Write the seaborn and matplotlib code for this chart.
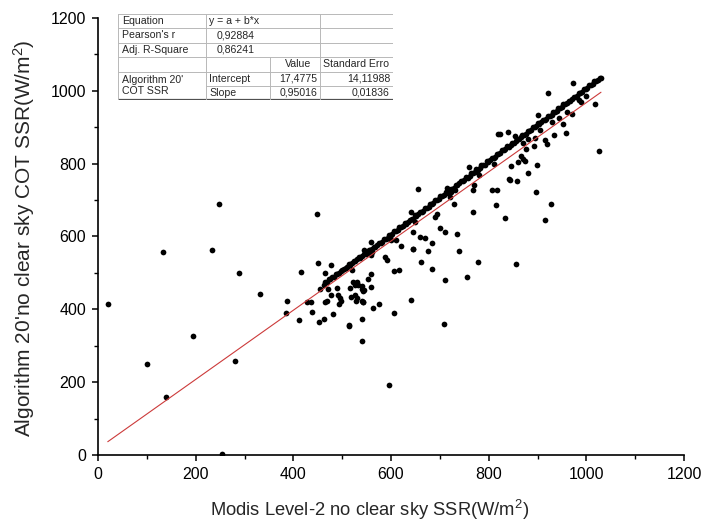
import numpy as np
import pandas as pd
import matplotlib
matplotlib.use('Agg')
import matplotlib.pyplot as plt
import seaborn as sns
from matplotlib.ticker import MultipleLocator
from matplotlib.patches import Rectangle

# ---- data ----
# dense band of points close to y = x
band_x = [462, 465, 469, 473, 476, 480, 483, 487, 490, 494, 497, 500, 504, 507, 510, 514, 517, 521, 524,
          527, 531, 534, 537, 541, 544, 548, 551, 555, 558, 561, 565, 568, 572, 575, 579, 582, 586, 589,
          593, 596, 600, 603, 607, 610, 614, 617, 621, 624, 628, 631, 635, 638, 642, 645, 649, 652, 656,
          659, 663, 666, 670, 673, 677, 680, 684, 687, 691, 694, 698, 701, 705, 708, 712, 715, 719, 722,
          726, 729, 733, 736, 740, 743, 747, 750, 754, 757, 761, 764, 768, 771, 775, 778, 782, 785, 789,
          792, 796, 799, 803, 806, 810, 813, 817, 820, 824, 827, 831, 834, 838, 841, 845, 848, 852, 855,
          859, 862, 866, 869, 873, 876, 880, 883, 887, 890, 894, 897, 901, 904, 908, 911, 915, 918, 922,
          925, 929, 932, 936, 939, 943, 946, 950, 953, 957, 960, 964, 967, 971, 974, 978, 981, 985, 988,
          992, 995, 999, 1002, 1006, 1009, 1013, 1016, 1020, 1023, 1027]
band_y = [467, 474, 476, 483, 484, 489, 490, 497, 496, 501, 506, 507, 512, 514, 516, 524, 523, 526, 534,
          532, 537, 543, 542, 547, 553, 553, 556, 563, 562, 566, 572, 572, 577, 583, 583, 586, 594, 593,
          597, 604, 604, 607, 615, 615, 618, 625, 626, 628, 636, 635, 640, 646, 647, 649, 658, 657, 661,
          667, 668, 671, 679, 678, 682, 689, 689, 692, 700, 699, 703, 710, 710, 713, 721, 720, 724, 731,
          731, 734, 742, 741, 746, 752, 753, 755, 764, 762, 767, 773, 774, 777, 785, 783, 788, 795, 795,
          797, 806, 805, 809, 816, 816, 819, 827, 826, 830, 837, 837, 840, 848, 847, 851, 858, 858, 861,
          869, 868, 872, 879, 879, 882, 890, 889, 893, 900, 900, 903, 911, 910, 914, 921, 921, 924, 931,
          931, 935, 942, 942, 945, 952, 952, 956, 963, 963, 966, 973, 973, 977, 984, 984, 987, 995, 994,
          998, 1005, 1005, 1008, 1016, 1015, 1019, 1026, 1026, 1029, 1036]

# scattered points away from the band
scatter_x = [21, 100, 139, 194, 134, 234, 248, 254, 281, 289, 331, 384, 388, 412, 415, 427, 437, 439,
             449, 450, 452, 454, 463, 464, 465, 468, 472, 477, 477, 482, 490, 491, 494, 496, 497, 513,
             514, 517, 519, 523, 526, 527, 528, 530, 531, 533, 540, 540, 540, 540, 540, 542, 542, 543,
             545, 553, 559, 560, 560, 562, 545, 563, 576, 588, 591, 595, 606, 606, 611, 616, 621, 640,
             641, 645, 646, 646, 655, 659, 662, 669, 676, 683, 683, 690, 694, 700, 708, 710, 711, 714,
             722, 729, 731, 736, 740, 756, 760, 767, 767, 770, 779, 806, 814, 817, 820, 823, 833, 840,
             841, 843, 846, 854, 856, 858, 860, 866, 870, 874, 876, 881, 892, 895, 896, 899, 902, 915,
             915, 920, 922, 927, 933, 952, 958, 960, 970, 973, 989, 1018, 1026, 1031,
             520, 560, 600, 650, 720, 780, 810, 870, 880, 905, 930, 945, 985, 1000]
scatter_y = [416, 249, 158, 327, 557, 564, 689, 3, 257, 500, 441, 389, 423, 372, 503, 421, 420, 392,
             661, 527, 366, 455, 373, 500, 421, 423, 457, 521, 438, 388, 458, 440, 416, 430, 424, 355,
             356, 458, 435, 476, 467, 440, 424, 476, 430, 467, 424, 455, 465, 373, 312, 421, 419, 449,
             453, 482, 496, 462, 586, 558, 563, 404, 415, 545, 536, 191, 390, 505, 590, 509, 574, 426,
             668, 565, 611, 566, 731, 598, 529, 596, 561, 581, 512, 653, 661, 623, 361, 613, 481, 732,
             722, 690, 729, 607, 561, 488, 790, 727, 668, 741, 530, 729, 686, 728, 882, 881, 650, 888,
             757, 756, 794, 877, 524, 752, 805, 821, 813, 808, 840, 773, 849, 870, 721, 797, 934, 646,
             865, 855, 993, 688, 879, 908, 883, 943, 936, 1021, 969, 965, 834, 1035,
             508, 548, 590, 640, 708, 770, 798, 858, 868, 893, 915, 925, 975, 985]

# linear fit reported in the table
intercept = 17.4775
slope = 0.95016
fit_range = [20, 1030]

table_rows = [
    ["Equation", "y = a + b*x", "", ""],
    ["Pearson's r", "0,92884", "", ""],
    ["Adj. R-Square", "0,86241", "", ""],
    ["", "", "Value", "Standard Erro"],
    ["Algorithm 20'", "Intercept", "17,4775", "14,11988"],
    ["COT SSR", "Slope", "0,95016", "0,01836"],
]

x_ticks = [0, 200, 400, 600, 800, 1000, 1200]
y_ticks = [0, 200, 400, 600, 800, 1000, 1200]

# ---- style ----
sns.set_style('ticks')
plt.rcParams['font.family'] = ['Liberation Sans', 'DejaVu Sans']
plt.rcParams['mathtext.fontset'] = 'custom'
plt.rcParams['mathtext.rm'] = 'Liberation Sans'
plt.rcParams['mathtext.it'] = 'Liberation Sans:italic'

fig = plt.figure(figsize=(7.04, 5.27), dpi=100)
W, H = 704.0, 527.0
ax = fig.add_axes([98 / W, 1 - 455 / H, (684 - 98) / W, (455 - 18) / H])

df = pd.DataFrame({'modis': band_x + scatter_x, 'algo': band_y + scatter_y})
sns.scatterplot(data=df, x='modis', y='algo', ax=ax, color='black', s=17,
                linewidth=0, zorder=3, legend=False)
fx = np.array(fit_range, dtype=float)
sns.lineplot(x=fx, y=intercept + slope * fx, ax=ax, color='#cc3a3a',
             linewidth=0.8, zorder=4)

ax.set_xlim(0, 1200)
ax.set_ylim(0, 1200)
ax.set_xticks(x_ticks)
ax.set_yticks(y_ticks)
ax.xaxis.set_minor_locator(MultipleLocator(100))
ax.yaxis.set_minor_locator(MultipleLocator(100))
sns.despine(ax=ax)
for s in ['left', 'bottom']:
    ax.spines[s].set_linewidth(1.2)
    ax.spines[s].set_color('black')
ax.tick_params(which='major', direction='out', length=4.5, width=1.1, labelsize=11.5,
               colors='black', pad=4)
ax.tick_params(which='minor', direction='out', length=3.2, width=1.0, colors='black')
ax.set_xlabel('Modis Level-2 no clear sky SSR(W/m$^2$)', fontsize=13.2)
ax.set_ylabel("Algorithm 20'no clear sky COT SSR(W/m$^2$)", fontsize=15)
ax.xaxis.set_label_coords((370 - 98) / 586, -(510 - 455) / 437)
ax.yaxis.set_label_coords(-(98 - 24) / 586, (455 - 238) / 437)
ax.xaxis.label.set_va('center')
ax.yaxis.label.set_va('center')

# ---- inset table ----
tx0, ty0, tw, th = 118, 14, 275, 86
tax = fig.add_axes([tx0 / W, 1 - (ty0 + th) / H, tw / W, th / H])
tax.set_xlim(0, tw)
tax.set_ylim(th, 0)
tax.axis('off')
tax.add_patch(Rectangle((0, 0), tw, th, facecolor='white', edgecolor='none', zorder=0))
cols = [0, 88, 152, 202, 275]
rows = [0, 14.3, 28.6, 43, 57.5, 71.7, 86]
gc = '#b8b8b8'
for i, yv in enumerate(rows[:-1]):
    if i == 5:
        tax.plot([cols[1], cols[4]], [yv, yv], color=gc, lw=0.7)
    else:
        tax.plot([0, tw], [yv, yv], color=gc, lw=0.7)
tax.plot([0, tw], [rows[-1], rows[-1]], color='#505050', lw=1.6)
for xv in [cols[0], cols[1], cols[3], cols[4]]:
    tax.plot([xv, xv], [0, rows[-1]], color=gc, lw=0.7)
tax.plot([cols[2], cols[2]], [rows[3], rows[-1]], color=gc, lw=0.7)

fs = 7.6
rc = [(rows[i] + rows[i + 1]) / 2 for i in range(6)]
for r in range(3):
    tax.text(4.5, rc[r], table_rows[r][0], fontsize=fs, va='center', ha='left')
tax.text(cols[1] + 3, rc[0], table_rows[0][1], fontsize=fs, va='center', ha='left')
tax.text(137, rc[1], table_rows[1][1], fontsize=fs, va='center', ha='right')
tax.text(137, rc[2], table_rows[2][1], fontsize=fs, va='center', ha='right')
tax.text(180, rc[3], table_rows[3][2], fontsize=fs, va='center', ha='center')
tax.text(cols[3] + 3, rc[3], table_rows[3][3], fontsize=fs, va='center', ha='left')
tax.text(4.5, rc[4] + 1.5, table_rows[4][0], fontsize=fs, va='center', ha='left')
tax.text(4.5, rc[5] - 1.5, table_rows[5][0], fontsize=fs, va='center', ha='left')
for r in (4, 5):
    tax.text(cols[1] + 3, rc[r], table_rows[r][1], fontsize=fs, va='center', ha='left')
    tax.text(cols[3] - 3, rc[r], table_rows[r][2], fontsize=fs, va='center', ha='right')
    tax.text(cols[4] - 3, rc[r], table_rows[r][3], fontsize=fs, va='center', ha='right')

fig.savefig('out.png', dpi=100)
